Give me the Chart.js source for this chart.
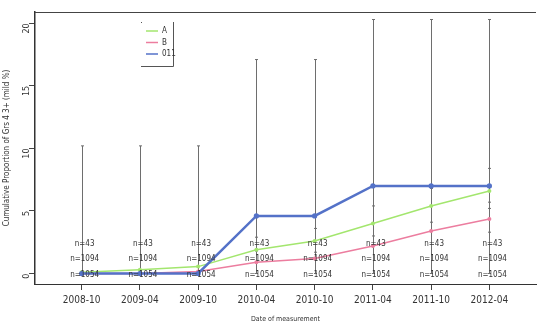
<!DOCTYPE html>
<html lang="en">
<head>
<meta charset="UTF-8">
<title>Cumulative proportion by date of measurement</title>
<script src="https://cdn.jsdelivr.net/npm/chart.js@4.4.0/dist/chart.umd.min.js"></script>
<style>
    html, body { margin: 0; padding: 0; background: #fff; overflow: hidden; }
    canvas { display: block; }
</style>
</head>
<body>
<canvas id="chart" width="540" height="323"></canvas>
<script>
    // Dates of measurement (x axis)
    const dates = ['2008-10', '2009-04', '2009-10', '2010-04', '2010-10', '2011-04', '2011-10', '2012-04'];
    const yTicks = [0, 5, 10, 15, 20];

    // Cumulative proportion (%) per group
    const seriesA   = [0.1, 0.3, 0.55, 1.9, 2.6, 4.0, 5.4, 6.6];
    const seriesB   = [0.0, 0.0, 0.15, 0.9, 1.2, 2.2, 3.4, 4.35];
    const series011 = [0.0, 0.0, 0.0, 4.6, 4.6, 7.0, 7.0, 7.0];

    // Confidence intervals
    const errLow011  = [0, 0, 0, 0, 0, 0, 0, 0];
    const errHigh011 = [10.2, 10.2, 10.2, 17.1, 17.1, 20.3, 20.3, 20.3];
    const errLowA    = [null, null, null, 1.8, 1.7, 3.0, 4.1, 5.2];
    const errHighA   = [null, null, null, 2.9, 3.6, 5.4, 6.8, 8.4];
    const errLowB    = [null, null, null, null, null, null, null, 3.3];
    const errHighB   = [null, null, null, null, null, null, null, 5.7];

    // Sample sizes per date
    const n011 = [43, 43, 43, 43, 43, 43, 43, 43];
    const nA   = [1094, 1094, 1094, 1094, 1094, 1094, 1094, 1094];
    const nB   = [1054, 1054, 1054, 1054, 1054, 1054, 1054, 1054];

    const FONT = "'Liberation Sans Narrow', 'DejaVu Sans Condensed', 'Liberation Sans', sans-serif";
    const toPoints = arr => arr.map((v, i) => ({ x: i, y: v }));

    // error bars, sample sizes, legend and top border
    const extras = {
        id: 'extras',
        beforeDatasetsDraw(chart) {
            const ctx = chart.ctx;
            const xs = chart.scales.x, ys = chart.scales.y;
            const bars = [[errLow011, errHigh011], [errLowA, errHighA], [errLowB, errHighB]];
            ctx.save();
            ctx.strokeStyle = '#6e6e6e';
            ctx.lineWidth = 1;
            bars.forEach(([lo, hi]) => {
                lo.forEach((l, i) => {
                    if (l === null) return;
                    const x = Math.round(xs.getPixelForValue(i)) + 0.5;
                    const y1 = ys.getPixelForValue(l), y2 = ys.getPixelForValue(hi[i]);
                    ctx.beginPath();
                    ctx.moveTo(x, y1); ctx.lineTo(x, y2);
                    ctx.moveTo(x - 1.5, y1); ctx.lineTo(x + 1.5, y1);
                    ctx.moveTo(x - 1.5, y2); ctx.lineTo(x + 1.5, y2);
                    ctx.stroke();
                });
            });
            ctx.restore();
        },
        afterDraw(chart) {
            const ctx = chart.ctx;
            const area = chart.chartArea;
            const xs = chart.scales.x, ys = chart.scales.y;
            ctx.save();

            // top border of the box
            ctx.strokeStyle = '#444';
            ctx.lineWidth = 1;
            ctx.beginPath();
            ctx.moveTo(area.left, area.top + 0.5);
            ctx.lineTo(area.right, area.top + 0.5);
            ctx.stroke();

            // n= labels, three rows
            ctx.fillStyle = '#333';
            ctx.font = '8px ' + FONT;
            ctx.textAlign = 'center';
            ctx.textBaseline = 'middle';
            const rows = [[n011, 2.4], [nA, 1.15], [nB, -0.15]];
            rows.forEach(([ns, yv]) => {
                ns.forEach((n, i) => {
                    ctx.fillText('n=' + n, xs.getPixelForValue(i) + 3, ys.getPixelForValue(yv));
                });
            });

            // legend box
            const lx = 141, ly = 22, lw = 32, lh = 44;
            ctx.fillStyle = '#fff';
            ctx.fillRect(lx, ly, lw, lh);
            ctx.strokeStyle = '#555';
            ctx.beginPath();
            ctx.moveTo(lx + lw + 0.5, ly);
            ctx.lineTo(lx + lw + 0.5, ly + lh + 0.5);
            ctx.lineTo(lx, ly + lh + 0.5);
            ctx.stroke();
            ctx.fillStyle = '#555';
            ctx.fillRect(lx, ly, 1, 1);
            ctx.font = '8px ' + FONT;
            ctx.textAlign = 'left';
            chart.data.datasets.forEach((ds, i) => {
                const y = ly + 9 + i * 11.5;
                ctx.strokeStyle = ds.borderColor;
                ctx.lineWidth = 1.5;
                ctx.beginPath();
                ctx.moveTo(lx + 5, y); ctx.lineTo(lx + 17, y);
                ctx.stroke();
                ctx.fillStyle = '#333';
                ctx.fillText(ds.label, lx + 21, y);
            });
            ctx.restore();
        }
    };

    new Chart(document.getElementById('chart'), {
        type: 'line',
        data: {
            datasets: [
                { label: 'A', data: toPoints(seriesA), borderColor: '#a3e66e', backgroundColor: '#a3e66e',
                  borderWidth: 1.5, pointRadius: 2, pointBorderWidth: 0, order: 1 },
                { label: 'B', data: toPoints(seriesB), borderColor: '#ec7d9f', backgroundColor: '#ec7d9f',
                  borderWidth: 1.5, pointRadius: 2, pointBorderWidth: 0, order: 2 },
                { label: '011', data: toPoints(series011), borderColor: '#5472c8', backgroundColor: '#5472c8',
                  borderWidth: 2.5, pointRadius: 2.6, pointBorderWidth: 0, order: 0 }
            ]
        },
        options: {
            responsive: false,
            animation: false,
            layout: { padding: { top: 12, right: -4, left: 0, bottom: 0 } },
            plugins: { legend: { display: false }, tooltip: { enabled: false } },
            scales: {
                x: {
                    type: 'linear',
                    min: -0.8,
                    max: 7.8,
                    afterBuildTicks: scale => { scale.ticks = dates.map((d, i) => ({ value: i })); },
                    afterFit: scale => { scale.height = 39; scale.paddingLeft = 0; scale.paddingRight = 0; },
                    grid: { drawOnChartArea: false, tickLength: 6, color: '#444' },
                    border: { color: '#333', width: 1 },
                    ticks: {
                        callback: v => dates[v],
                        autoSkip: false, maxRotation: 0,
                        color: '#333', padding: 4,
                        font: { size: 10, family: FONT }
                    },
                    title: {
                        display: true, text: 'Date of measurement', color: '#333',
                        font: { size: 7, family: FONT }, padding: { top: 7, bottom: 0 }
                    }
                },
                y: {
                    min: -0.84,
                    max: 20.9,
                    afterBuildTicks: scale => { scale.ticks = yTicks.map(v => ({ value: v })); },
                    afterFit: scale => { scale.width = 35; scale.paddingTop = 0; scale.paddingBottom = 0; },
                    grid: { drawOnChartArea: false, tickLength: 6, color: '#444' },
                    border: { color: '#333', width: 1.5 },
                    ticks: {
                        minRotation: 90, maxRotation: 90,
                        color: '#333', padding: 2,
                        font: { size: 9, family: FONT }
                    },
                    title: {
                        display: true, text: 'Cumulative Proportion of Grs 4 3+ (mild %)', color: '#333',
                        font: { size: 8, family: FONT }, padding: { top: 2, bottom: 2 }
                    }
                }
            }
        },
        plugins: [extras]
    });
</script>
</body>
</html>
